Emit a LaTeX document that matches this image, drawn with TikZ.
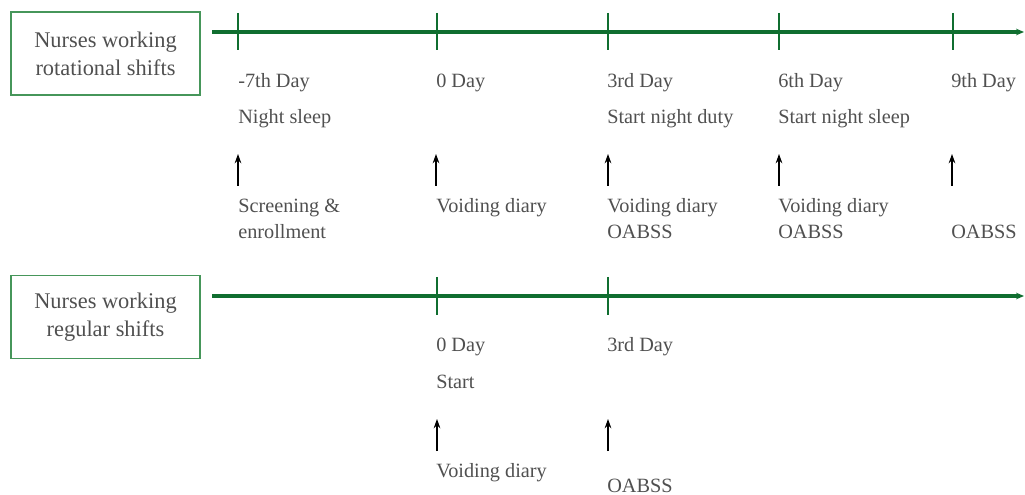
\documentclass[tikz,border=0pt]{standalone}
\usepackage{fontspec}
\setmainfont{Liberation Serif}
\usetikzlibrary{arrows.meta}
\definecolor{tlgreen}{RGB}{16,110,48}
\definecolor{boxgreen}{RGB}{70,150,90}
\definecolor{txtgray}{RGB}{80,80,80}
\begin{document}
\begin{tikzpicture}[x=0.75pt,y=-0.75pt,
  lbl/.style={anchor=base west,inner sep=0pt,text=txtgray,font=\fontsize{15.2pt}{18pt}\selectfont},
  grp/.style={draw=boxgreen,line width=0.8pt,minimum width=141.75pt,minimum height=62.25pt,inner sep=0pt,align=center,text=txtgray,font=\fontsize{16.8pt}{21pt}\selectfont},
  tline/.style={draw=tlgreen,line width=2.5pt,-{Stealth[length=6pt,width=5pt]}},
  tick/.style={draw=tlgreen,line width=1.8pt},
  up/.style={draw=black,line width=0.8pt,-{Stealth[length=7pt,width=5pt]}}]
\useasboundingbox (0,0) rectangle (1025,495);
% group boxes
\node[grp] (g1) at (105.5,53.5) {Nurses working\\rotational shifts};
\node[grp] (g2) at (105.5,317) {Nurses working\\regular shifts};
% timelines
\coordinate (a1) at (212,32);
\coordinate (b1) at (1024,32);
\draw[tline] (a1) -- (b1);
\coordinate (a2) at (212,296);
\coordinate (b2) at (1024,296);
\draw[tline] (a2) -- (b2);
% ticks top
\foreach \n/\x in {t1/238,t2/437,t3/608,t4/779,t5/953}{
  \coordinate (\n top) at (\x,13);
  \coordinate (\n bot) at (\x,50);
  \draw[tick] (\n top) -- (\n bot);
}
\foreach \n/\x in {s1/437,s2/608}{
  \coordinate (\n top) at (\x,277);
  \coordinate (\n bot) at (\x,315);
  \draw[tick] (\n top) -- (\n bot);
}
% top labels
\node[lbl] (d1) at (238,88) {-7th Day};
\node[lbl] (d2) at (436,88) {0 Day};
\node[lbl] (d3) at (607,88) {3rd Day};
\node[lbl] (d4) at (778,88) {6th Day};
\node[lbl] (d5) at (951,88) {9th Day};
\node[lbl] (e1) at (238,124) {Night sleep};
\node[lbl] (e3) at (607,124) {Start night duty};
\node[lbl] (e4) at (778,124) {Start night sleep};
% arrows top
\foreach \n/\x in {1/238,2/436,3/608,4/779,5/952}{
  \coordinate (u\n b) at (\x,186);
  \coordinate (u\n t) at (\x,154);
  \draw[up] (u\n b) -- (u\n t);
}
\node[lbl] (f1) at (238,213) {Screening \&};
\node[lbl] (f1b) at (238,239) {enrollment};
\node[lbl] (f2) at (436,213) {Voiding diary};
\node[lbl] (f3) at (607,213) {Voiding diary};
\node[lbl] (f3b) at (607,239) {OABSS};
\node[lbl] (f4) at (778,213) {Voiding diary};
\node[lbl] (f4b) at (778,239) {OABSS};
\node[lbl] (f5b) at (951,239) {OABSS};
% bottom labels
\node[lbl] (h1) at (436,352) {0 Day};
\node[lbl] (h2) at (607,352) {3rd Day};
\node[lbl] (k1) at (436,388) {Start};
\coordinate (v1b) at (437,451);
\coordinate (v1t) at (437,419);
\draw[up] (v1b) -- (v1t);
\coordinate (v2b) at (608,451);
\coordinate (v2t) at (608,419);
\draw[up] (v2b) -- (v2t);
\node[lbl] (m1) at (436,477) {Voiding diary};
\node[lbl] (m2) at (607,492) {OABSS};
\end{tikzpicture}
\end{document}
